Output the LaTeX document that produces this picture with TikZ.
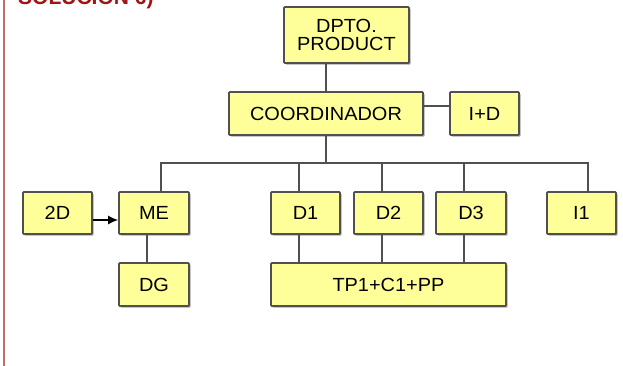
\documentclass[tikz,border=0pt]{standalone}
\usepackage{fontspec}
\setmainfont{Liberation Sans}
\newfontfamily\boxfont[FakeStretch=1.05]{Liberation Sans}
\usetikzlibrary{shadows,arrows.meta}
\definecolor{boxfill}{RGB}{255,255,153}
\definecolor{boxline}{RGB}{80,80,80}
\definecolor{titlered}{RGB}{160,20,20}
\definecolor{rimred}{RGB}{190,110,110}
\begin{document}
\begin{tikzpicture}[x=1pt,y=-1pt,
  orgbox/.style={draw=boxline, line width=1.6pt, fill=boxfill, inner sep=0pt,
    minimum width=69pt, minimum height=42pt, rounded corners=0.8pt,
    font=\boxfont\fontsize{19}{18}\selectfont,
    drop shadow={shadow xshift=1.6pt, shadow yshift=-1.6pt, fill=black!35, opacity=1}},
  link/.style={draw=boxline, line width=1.5pt},
  arrowlink/.style={draw=black, line width=1.5pt, -{Latex[length=10pt,width=9pt]}}]
\clip (0,0) rectangle (623,366);
\fill[white] (0,0) rectangle (623,366);
\draw[rimred, line width=2.5pt] (4,0) -- (4,366);
\node[anchor=base west, text=titlered, font=\bfseries\fontsize{21}{21}\selectfont, inner sep=0pt] (title) at (18,4.5) {SOLUCIÓN 6)};

\node[orgbox, minimum width=125pt, minimum height=56pt, align=center] (dpto) at (346.5,35) {DPTO.\\[0.5pt]PRODUCT};
\node[orgbox, minimum width=194pt, minimum height=43pt] (coord) at (326,113.5) {COORDINADOR};
\node[orgbox, minimum height=43pt] (iyd) at (484.5,113.5) {I+D};

\node[orgbox] (d2d) at (57.5,213) {2D};
\node[orgbox, minimum width=70pt] (me) at (154,213) {ME};
\node[orgbox] (d1) at (305.5,213) {D1};
\node[orgbox] (d2) at (388.5,213) {D2};
\node[orgbox, minimum width=70pt] (d3) at (471,213) {D3};
\node[orgbox] (i1) at (581.5,213) {I1};

\node[orgbox, minimum width=70pt, minimum height=43pt] (dg) at (154,284.5) {DG};
\node[orgbox, minimum width=235pt, minimum height=43pt] (tp) at (388.5,284.5) {TP1+C1+PP};

\coordinate (bus) at (326,163);

\draw[link] (coord.north) -- (coord.north |- dpto.south);
\draw[link] ([yshift=7.5pt]coord.east) -- ([yshift=7.5pt]coord.east -| iyd.west);
\draw[link] (coord.south) -- (bus);
\draw[link] ([xshift=7pt]me.north) |- (bus) -| ([xshift=6.5pt]i1.north);
\draw[link] ([xshift=-6.5pt]d1.north) -- ([xshift=-6.5pt]d1.north |- bus);
\draw[link] ([xshift=-6.5pt]d2.north) -- ([xshift=-6.5pt]d2.north |- bus);
\draw[link] ([xshift=-7pt]d3.north) -- ([xshift=-7pt]d3.north |- bus);
\draw[link] ([xshift=-7pt]me.south) -- ([xshift=-7pt]me.south |- dg.north);
\draw[link] ([xshift=-6.5pt]d1.south) -- ([xshift=-6.5pt]d1.south |- tp.north);
\draw[link] ([xshift=-6.5pt]d2.south) -- ([xshift=-6.5pt]d2.south |- tp.north);
\draw[link] ([xshift=-7pt]d3.south) -- ([xshift=-7pt]d3.south |- tp.north);
\draw[arrowlink] ([yshift=-7pt]d2d.east) -- ([yshift=-7pt]me.west);
\end{tikzpicture}
\end{document}
